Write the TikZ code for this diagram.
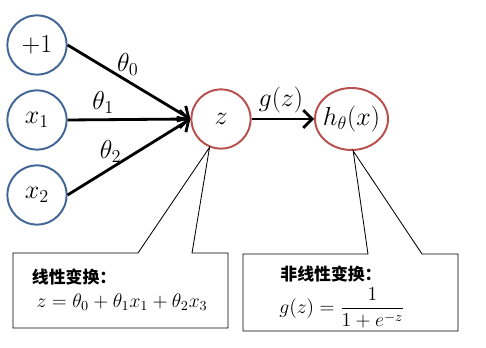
\RequirePackage{fix-cm}
\documentclass[tikz,border=0pt]{standalone}
\usepackage{amsmath}
\usepackage{fontspec}
\newfontfamily\cjk{Noto Sans CJK SC}
\usetikzlibrary{arrows.meta,shapes.geometric}
\definecolor{inblue}{RGB}{66,102,150}
\definecolor{outred}{RGB}{184,80,78}

\begin{document}
\begin{tikzpicture}[every node/.style={font=\fontsize{18.5}{22}\selectfont}, >={Straight Barb[length=2.2mm, width=4.4mm]},
	unit/.style={circle, draw=inblue, line width=1.4pt, minimum size=1.48cm, inner sep=0pt},
	act/.style={circle, draw=outred, line width=1.4pt, minimum size=1.48cm, inner sep=0pt},
	wire/.style={->, line width=2pt},
	note/.style={line width=0.6pt, line join=miter},
	title/.style={font=\cjk\bfseries\fontsize{12}{14}\selectfont},
	eq/.style={font=\fontsize{14}{17}\selectfont}]
	\useasboundingbox (0,0) rectangle (12.15,8.7);
	% inputs
	\node[unit] (bias) at (0.925,7.575) {$+1$};
	\node[unit] (x1) at (0.925,5.7) {$x_1$};
	\node[unit] (x2) at (0.925,3.825) {$x_2$};
	% sum and activation
	\node[act] (z) at (5.525,5.725) {$z$};
	\node[act, ellipse, minimum width=1.825cm, minimum height=1.55cm, label=center:{$h_\theta(x)$}] (h) at (8.7875,5.725) {};
	\draw[wire] (bias.east) -- (z.west) node[pos=0.49, above] {$\theta_0$};
	\draw[wire] (x1.east) -- (z.west) node[pos=0.29, above] {$\theta_1$};
	\draw[wire] (x2.east) -- (z.west) node[pos=0.35, above] {$\theta_2$};
	\draw[wire] (z.east) -- (h.west) node[pos=0.47, above] {$g(z)$};
	% callouts
	\draw[note] (3.45,2.375) -- (0.325,2.375) -- (0.325,0.5) -- (5.7,0.5) -- (5.7,2.375) -- (4.8,2.375) -- (z.248) -- cycle;
	\draw[note] (9.2,2.35) -- (6.075,2.35) -- (6.075,0.425) -- (11.45,0.425) -- (11.45,2.35) -- (10.55,2.35) -- (h.273) -- cycle;
	\node[title, anchor=west] (linT) at (0.675,1.775) {线性变换：};
	\node[eq] (linF) at (3.05,1.15) {$z=\theta_0+\theta_1x_1+\theta_2x_3$};
	\node[title] (nonT) at (8.275,1.85) {非线性变换：};
	\node[eq] (nonF) at (8.55,1.0) {$g(z)=\dfrac{1}{1+e^{-z}}$};
\end{tikzpicture}
\end{document}
